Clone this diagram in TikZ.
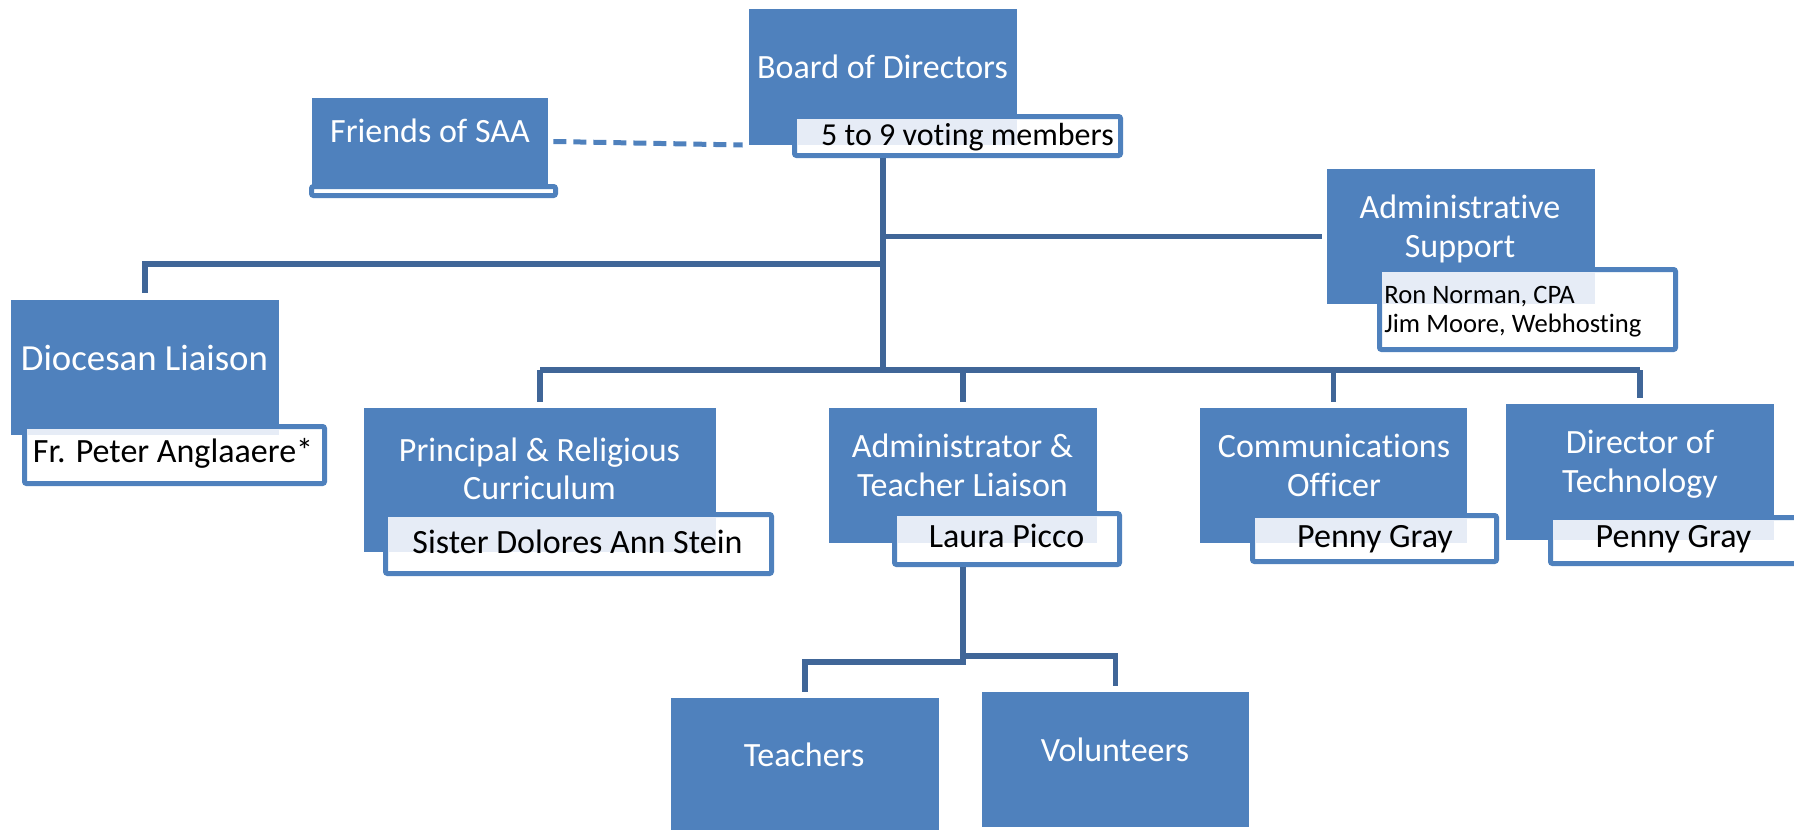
\documentclass[tikz,border=0pt]{standalone}
\usepackage{fontspec}
\setmainfont{Carlito}[Ligatures={NoCommon}]
\usetikzlibrary{fit,calc}
\definecolor{boxblue}{RGB}{79,129,189}
\definecolor{lineblue}{RGB}{64,102,152}
\definecolor{paleblue}{RGB}{230,236,246}
\tikzset{
  bluebox/.style={fill=boxblue, draw=none, inner sep=0pt},
  subbox/.style={fill=white, draw=boxblue, line width=2.5pt, rounded corners=1pt, inner sep=0pt},
  wtext/.style={text=white, font=\fontsize{17}{20}\selectfont, anchor=base, inner sep=0pt},
  btext/.style={text=black, font=\fontsize{17}{20}\selectfont, anchor=base, inner sep=0pt},
  conn/.style={draw=lineblue, line width=2.75pt},
  overlap/.style={fill=paleblue},
}
\begin{document}
\begin{tikzpicture}[x=0.5pt,y=-0.5pt]
\useasboundingbox (0,0) rectangle (1794,830);

% ---------- blue boxes ----------
\node[bluebox, fit={(312,98)(548,185)}] (friends) {};
\node[bluebox, fit={(749,9)(1017,145)}] (board) {};
\node[bluebox, fit={(1327,169)(1595,304)}] (adm) {};
\node[bluebox, fit={(11,300)(279,435)}] (dioc) {};
\node[bluebox, fit={(364,408)(716,552)}] (prin) {};
\node[bluebox, fit={(829,408)(1097,543)}] (admT) {};
\node[bluebox, fit={(1200,408)(1467,543)}] (comm) {};
\node[bluebox, fit={(1506,404)(1774,540)}] (dir) {};
\node[bluebox, fit={(671,698)(939,835)}] (teach) {};
\node[bluebox, fit={(982,692)(1249,827)}] (vol) {};

% ---------- sub boxes ----------
\node[subbox, fit={(311.5,186.5)(555.5,195.5)}] (friendsS) {};
\node[subbox, fit={(794.5,116.5)(1120.5,155.5)}] (boardS) {};
\node[subbox, fit={(1379.5,269.5)(1675.5,349.5)}] (admS) {};
\node[subbox, fit={(24.5,426.5)(324.5,483.5)}] (diocS) {};
\node[subbox, fit={(385.5,514.5)(771.5,573.5)}] (prinS) {};
\node[subbox, fit={(894.5,513.5)(1119.5,564.5)}] (admTS) {};
\node[subbox, fit={(1252.5,515.5)(1496.5,561.5)}] (commS) {};
\node[subbox, fit={(1550.5,517.5)(1800,563.5)}] (dirS) {};

% ---------- overlap tint ----------
\fill[overlap] (797,119) rectangle (1017,145);
\fill[overlap] (1382,272) rectangle (1595,304);
\fill[overlap] (27,429) rectangle (279,435);
\fill[overlap] (388,517) rectangle (716,552);
\fill[overlap] (897,516) rectangle (1097,543);
\fill[overlap] (1255,518) rectangle (1467,543);
\fill[overlap] (1553,520) rectangle (1774,540);

% ---------- texts ----------
\node[wtext] (friendsT) at (430,142) {Friends of SAA};
\node[wtext] (boardT) at (882.5,78) {Board of Directors};
\node[btext, font=\fontsize{16}{19}\selectfont] (boardST) at (967.5,145) {5 to 9 voting members};
\node[wtext] (admT1) at (1460,218) {Administrative};
\node[wtext] (admT2) at (1460,257) {Support};
\node[btext, anchor=base west, font=\fontsize{13.3}{15}\selectfont] (admST1) at (1384,303) {Ron Norman, CPA};
\node[btext, anchor=base west, font=\fontsize{13.3}{15}\selectfont] (admST2) at (1384,332) {Jim Moore, Webhosting};
\node[wtext, font=\fontsize{18.4}{22}\selectfont] (diocT) at (144.5,370) {Diocesan Liaison};
\node[btext] (diocST) at (173,462) {Fr. Peter Anglaaere*};
\node[wtext] (prinT1) at (539.5,461) {Principal \& Religious};
\node[wtext] (prinT2) at (539.5,499) {Curriculum};
\node[btext] (prinST) at (577.5,553) {Sister Dolores Ann Stein};
\node[wtext] (admTT1) at (962.5,457) {Administrator \&};
\node[wtext] (admTT2) at (962.5,496) {Teacher Liaison};
\node[btext] (admTST) at (1006.5,547) {Laura Picco};
\node[wtext] (commT1) at (1334,457) {Communications};
\node[wtext] (commT2) at (1334,496) {Officer};
\node[btext] (commST) at (1375,547) {Penny Gray};
\node[wtext] (dirT1) at (1640,453) {Director of};
\node[wtext] (dirT2) at (1640,492) {Technology};
\node[btext] (dirST) at (1673.5,547) {Penny Gray};
\node[wtext] (teachT) at (804,766) {Teachers};
\node[wtext] (volT) at (1115,761) {Volunteers};

% ---------- connectors ----------
\draw[draw=boxblue, line width=2.5pt, dash pattern=on 6.5pt off 3.5pt]
  ([xshift=2.5pt]friends.east) -- ([xshift=-3pt]board.west |- 0,145);

\coordinate (tTop) at (board.south |- boardS.south);
\coordinate (tBot) at (883,373);
\draw[conn, line width=3pt] (tTop) -- (tBot);
\draw[conn] (tBot |- adm.west) -- ([xshift=-2.5pt]adm.west);
\draw[conn] (883,264) -- (dioc.north |- 0,264) -- ([yshift=3.5pt]dioc.north);
\draw[conn, line width=3.25pt] (prin.north |- 0,370) -- (dir.north |- 0,370);
\draw[conn] (prin.north |- 0,370) -- ([yshift=3pt]prin.north);
\draw[conn] (admT.north |- 0,370) -- ([yshift=3pt]admT.north);
\draw[conn] (comm.north |- 0,370) -- ([yshift=3pt]comm.north);
\draw[conn] (dir.north |- 0,370) -- ([yshift=3pt]dir.north);

\draw[conn] (admT.south |- admTS.south) -- (963,662) -- (teach.north |- 0,662) -- ([yshift=3pt]teach.north);
\draw[conn] (963,656) -- (vol.north |- 0,656) -- ([yshift=3pt]vol.north);
\end{tikzpicture}
\end{document}
